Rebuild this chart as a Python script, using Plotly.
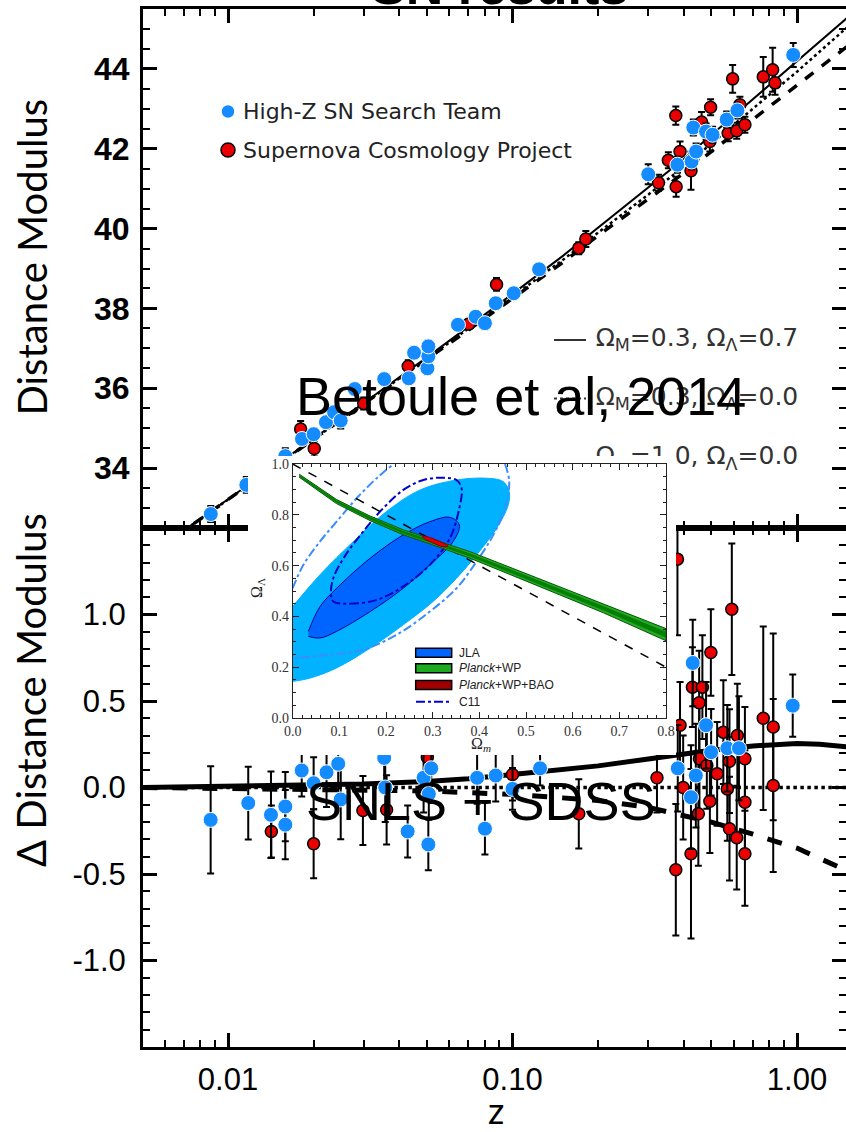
import plotly.graph_objects as go

# ---------------- data ----------------
# model curves: distance modulus of the reference (Omega_M=0.3, Omega_L=0) and residuals of the others
model_z = [0.005, 0.01, 0.02, 0.03, 0.05, 0.07, 0.1, 0.15, 0.2, 0.3, 0.4, 0.5, 0.7, 1.0, 1.2, 1.5]
mu_open = [31.70, 33.21, 34.72, 35.61, 36.74, 37.49, 38.29, 39.21, 39.90, 40.85, 41.55, 42.13, 43.00, 43.93, 44.43, 45.04]
dmu_lcdm = [0.0, 0.005, 0.012, 0.02, 0.035, 0.05, 0.075, 0.10, 0.125, 0.165, 0.195, 0.215, 0.24, 0.255, 0.25, 0.235]
dmu_open = [0.0] * len(model_z)
dmu_eds = [0.0, -0.004, -0.008, -0.012, -0.02, -0.03, -0.04, -0.06, -0.075, -0.115, -0.16, -0.2, -0.27, -0.35, -0.41, -0.48]

# Hubble diagram (top panel)
hz_top_z = [0.0087, 0.0116, 0.0159, 0.0182, 0.0200, 0.0221, 0.0236, 0.0249, 0.0279, 0.0354, 0.0432, 0.0451,
            0.0502, 0.0506, 0.0506, 0.0643, 0.0742, 0.0800, 0.0873, 0.101, 0.124, 0.300, 0.380, 0.426,
            0.442, 0.432, 0.479, 0.505, 0.566, 0.617, 0.970]
hz_top_mu = [32.85, 33.58, 34.30, 34.73, 34.85, 35.15, 35.40, 35.19, 35.98, 36.23, 36.25, 36.89,
             36.50, 36.80, 37.05, 37.59, 37.79, 37.63, 38.13, 38.38, 38.98, 41.36, 41.60, 41.68,
             41.93, 42.53, 42.43, 42.35, 42.73, 42.96, 44.35]
hz_top_err = [0.2, 0.2, 0.2, 0.15, 0.15, 0.15, 0.15, 0.2, 0.15, 0.15, 0.15, 0.15,
              0.15, 0.15, 0.15, 0.12, 0.12, 0.15, 0.12, 0.12, 0.1, 0.25, 0.2, 0.2,
              0.2, 0.2, 0.2, 0.2, 0.2, 0.2, 0.3]

scp_top_z = [0.0180, 0.0201, 0.0300, 0.0430, 0.0702, 0.0879, 0.171, 0.181, 0.326, 0.353, 0.375, 0.376,
             0.388, 0.424, 0.462, 0.494, 0.497, 0.573, 0.594, 0.614, 0.630, 0.656, 0.761, 0.821, 0.837]
scp_top_mu = [34.98, 34.49, 35.62, 36.55, 37.61, 38.60, 39.51, 39.74, 41.15, 41.71, 42.83, 41.05,
              41.93, 41.45, 42.67, 42.18, 43.04, 42.39, 43.75, 42.45, 43.10, 42.60, 43.80, 43.98, 43.65]
scp_top_err = [0.2, 0.2, 0.15, 0.15, 0.12, 0.16, 0.15, 0.2, 0.2, 0.2, 0.23, 0.25,
               0.25, 0.48, 0.25, 0.25, 0.2, 0.2, 0.35, 0.2, 0.2, 0.2, 0.5, 0.55, 0.3]

# residuals (bottom panel)
hz_bot_z = [0.00869, 0.01178, 0.01416, 0.0159, 0.0159, 0.01816, 0.0200, 0.0222, 0.0244, 0.0249, 0.0354,
            0.0357, 0.0428, 0.0487, 0.0506, 0.0508, 0.0518, 0.0751, 0.0800, 0.0873, 0.100, 0.125,
            0.381, 0.424, 0.430, 0.441, 0.479, 0.499, 0.569, 0.625, 0.966]
hz_bot_d = [-0.187, -0.09, -0.158, -0.11, -0.215, 0.098, 0.025, 0.088, 0.137, -0.069, 0.171,
            0.0, -0.254, 0.056, -0.329, -0.037, 0.111, 0.056, -0.238, 0.069, -0.008, 0.111,
            0.111, -0.056, 0.72, 0.069, 0.36, 0.204, 0.227, 0.227, 0.473]
hz_bot_err = [0.31, 0.21, 0.25, 0.2, 0.2, 0.15, 0.15, 0.2, 0.2, 0.23, 0.15,
              0.2, 0.15, 0.2, 0.15, 0.15, 0.2, 0.15, 0.15, 0.15, 0.12, 0.1,
              0.25, 0.3, 0.25, 0.3, 0.25, 0.25, 0.25, 0.3, 0.18]

scp_bot_z = [0.0142, 0.0200, 0.0298, 0.0361, 0.0502, 0.100, 0.171, 0.322, 0.375, 0.380, 0.388, 0.398,
             0.424, 0.429, 0.450, 0.453, 0.454, 0.465, 0.482, 0.494, 0.498, 0.524, 0.551, 0.569,
             0.579, 0.579, 0.590, 0.614, 0.617, 0.656, 0.656, 0.656, 0.761, 0.825, 0.825]
scp_bot_d = [-0.254, -0.325, -0.133, -0.129, 0.175, 0.075, -0.152, 0.056, -0.475, 1.32, 0.36, 0.0,
             -0.383, 0.58, -0.152, 0.49, 0.166, 0.58, 0.127, -0.079, 0.78, 0.079, 0.32, -0.008,
             0.152, -0.238, 1.03, -0.29, 0.30, 0.166, -0.085, -0.383, 0.40, 0.35, 0.012]
scp_bot_err = [0.15, 0.2, 0.2, 0.2, 0.2, 0.15, 0.2, 0.2, 0.38, 0.44, 0.25, 0.3,
               0.49, 0.23, 0.3, 0.3, 0.3, 0.3, 0.25, 0.3, 0.25, 0.3, 0.3, 0.3,
               0.3, 0.3, 0.38, 0.3, 0.3, 0.3, 0.3, 0.3, 0.53, 0.54, 0.5]

# tick labels
x_tickvals = [0.01, 0.1, 1.0]
x_ticktext = ["0.01", "0.10", "1.00"]
x_minor = [0.006, 0.007, 0.008, 0.009, 0.02, 0.03, 0.04, 0.05, 0.06, 0.07, 0.08, 0.09,
           0.2, 0.3, 0.4, 0.5, 0.6, 0.7, 0.8, 0.9]
top_tickvals = [34, 36, 38, 40, 42, 44]
top_minor = [32.5 + 0.5 * i for i in range(27)]
bot_tickvals = [-1.0, -0.5, 0.0, 0.5, 1.0]
bot_ticktext = ["-1.0", "-0.5", "0.0", "0.5", "1.0"]
bot_minor = [round(-1.5 + 0.1 * i, 2) for i in range(31)]

# inset: Omega_m - Omega_Lambda constraints
jla2_om = [0.0, 0.0586, 0.130, 0.201, 0.273, 0.351, 0.416, 0.451, 0.464, 0.462, 0.437, 0.394, 0.351,
           0.301, 0.237, 0.166, 0.094, 0.037, 0.0]
jla2_ol = [0.439, 0.564, 0.695, 0.813, 0.898, 0.937, 0.944, 0.931, 0.891, 0.839, 0.747, 0.642, 0.550,
           0.459, 0.367, 0.275, 0.197, 0.157, 0.144]
jla1_om = [0.0336, 0.0586, 0.0943, 0.166, 0.237, 0.294, 0.337, 0.357, 0.344, 0.294, 0.237, 0.166,
           0.094, 0.0586, 0.0336]
jla1_ol = [0.341, 0.439, 0.511, 0.629, 0.721, 0.773, 0.790, 0.760, 0.695, 0.603, 0.511, 0.419,
           0.341, 0.315, 0.321]
c11a_om = [0.087, 0.123, 0.180, 0.237, 0.294, 0.337, 0.357, 0.362, 0.351, 0.323, 0.280, 0.237, 0.194,
           0.151, 0.109, 0.087, 0.082, 0.087]
c11a_ol = [0.459, 0.450, 0.465, 0.518, 0.603, 0.708, 0.826, 0.904, 0.937, 0.946, 0.937, 0.898, 0.826,
           0.734, 0.629, 0.550, 0.491, 0.459]
c11b_up_om = [0.0, 0.023, 0.0586, 0.094, 0.137, 0.180, 0.216]
c11b_up_ol = [0.511, 0.603, 0.695, 0.773, 0.865, 0.944, 1.0]
c11b_lo_om = [0.455, 0.464, 0.455, 0.430, 0.394, 0.351, 0.294, 0.223, 0.151, 0.080, 0.0]
c11b_lo_ol = [1.0, 0.931, 0.826, 0.721, 0.616, 0.511, 0.419, 0.328, 0.269, 0.249, 0.236]
planck_om = [0.014, 0.094, 0.166, 0.237, 0.301, 0.380, 0.523, 0.666, 0.800]
planck_hi = [0.960, 0.860, 0.795, 0.741, 0.703, 0.655, 0.552, 0.450, 0.352]
planck_lo = [0.948, 0.844, 0.777, 0.721, 0.681, 0.629, 0.522, 0.414, 0.304]
planck_in_hi = [0.956, 0.855, 0.790, 0.735, 0.697, 0.647, 0.543, 0.439, 0.338]
planck_in_lo = [0.952, 0.849, 0.782, 0.727, 0.687, 0.637, 0.531, 0.425, 0.318]
bao_om = [0.278, 0.295, 0.315, 0.333, 0.322, 0.300, 0.282, 0.278]
bao_ol = [0.716, 0.710, 0.695, 0.678, 0.674, 0.690, 0.706, 0.716]
flat_om = [0.0, 0.8]
flat_ol = [1.0, 0.2]
inset_xticks = [0.0, 0.1, 0.2, 0.3, 0.4, 0.5, 0.6, 0.7, 0.8]
inset_yticks = [0.0, 0.2, 0.4, 0.6, 0.8, 1.0]

# ---------------- layout geometry ----------------
W, H = 846, 1132
L, R, T, B = 143, 0, 9, 85
PW, PH = W - L - R, H - T - B


def pxx(x):
    return (x - L) / PW


def pyy(y):
    return (H - B - y) / PH


BLUE = "rgb(20,140,255)"
RED = "rgb(235,0,0)"

fig = go.Figure()

# ---- model curves
mu_lcdm = [a + b for a, b in zip(mu_open, dmu_lcdm)]
mu_eds = [a + b for a, b in zip(mu_open, dmu_eds)]
for yv, dash, wd in [(mu_open, "dot", 2.5), (mu_eds, "dash", 3.5), (mu_lcdm, "solid", 2)]:
    fig.add_trace(go.Scatter(x=model_z, y=yv, mode="lines", xaxis="x2", yaxis="y2",
                             line=dict(color="black", width=wd, dash=dash)))
for yv, dash, wd in [(dmu_open, "dot", 3.5), (dmu_eds, "dash", 5), (dmu_lcdm, "solid", 5)]:
    fig.add_trace(go.Scatter(x=model_z, y=yv, mode="lines", xaxis="x", yaxis="y",
                             line=dict(color="black", width=wd, dash=dash)))


def pts(x, y, e, ax, ay, color, size, lc, lw):
    return go.Scatter(x=x, y=y, mode="markers", xaxis=ax, yaxis=ay,
                      marker=dict(color=color, size=size, line=dict(color=lc, width=lw)),
                      error_y=dict(type="data", array=e, color="black", thickness=2, width=3.5))


fig.add_trace(pts(scp_top_z, scp_top_mu, scp_top_err, "x2", "y2", RED, 12, "black", 1.5))
fig.add_trace(pts(hz_top_z, hz_top_mu, hz_top_err, "x2", "y2", BLUE, 15, "white", 1))
fig.add_trace(pts(scp_bot_z, scp_bot_d, scp_bot_err, "x", "y", RED, 12, "black", 1.5))
fig.add_trace(pts(hz_bot_z, hz_bot_d, hz_bot_err, "x", "y", BLUE, 15, "white", 1))

# ---- model legend text (in top panel, partly covered by inset like the original)
leg_txt = ["Ω<sub>M</sub>=0.3, Ω<sub>Λ</sub>=0.7", "Ω<sub>M</sub>=0.3, Ω<sub>Λ</sub>=0.0",
           "Ω<sub>M</sub>=1.0, Ω<sub>Λ</sub>=0.0"]
leg_y = [37.21, 35.74, 34.25]
fig.add_trace(go.Scatter(x=[0.196] * 3, y=leg_y, text=leg_txt, mode="text", xaxis="x2", yaxis="y2",
                         textposition="middle right",
                         textfont=dict(family="DejaVu Sans", size=25, color="#333")))

# ---- white box behind inset (covers the main panels)
fig.add_trace(go.Scatter(x=[0, 1, 1, 0, 0], y=[0, 0, 1, 1, 0], mode="lines", fill="toself",
                         fillcolor="white", line=dict(width=0, color="white"),
                         xaxis="x3", yaxis="y3", hoverinfo="skip"))

# ---- inset traces
LB = "rgb(0,178,255)"
MB = "rgb(0,100,255)"
fig.add_trace(go.Scatter(x=jla2_om, y=jla2_ol, fill="toself", fillcolor=LB, mode="lines",
                         line=dict(color=LB, width=1, shape="spline"), xaxis="x4", yaxis="y4"))
fig.add_trace(go.Scatter(x=jla1_om, y=jla1_ol, fill="toself", fillcolor=MB, mode="lines",
                         line=dict(color="rgb(0,0,150)", width=1, shape="spline"), xaxis="x4", yaxis="y4"))
fig.add_trace(go.Scatter(x=c11a_om, y=c11a_ol, mode="lines", xaxis="x4", yaxis="y4",
                         line=dict(color="rgb(0,0,200)", width=2, dash="dashdot", shape="spline")))
for xo, yo in [(c11b_up_om, c11b_up_ol), (c11b_lo_om, c11b_lo_ol)]:
    fig.add_trace(go.Scatter(x=xo, y=yo, mode="lines", xaxis="x4", yaxis="y4",
                             line=dict(color="rgb(60,140,255)", width=2, dash="dashdot", shape="spline")))
fig.add_trace(go.Scatter(x=flat_om, y=flat_ol, mode="lines", xaxis="x4", yaxis="y4",
                         line=dict(color="black", width=1.5, dash="dash")))
fig.add_trace(go.Scatter(x=planck_om + planck_om[::-1], y=planck_hi + planck_lo[::-1], fill="toself",
                         fillcolor="rgb(40,170,40)", mode="lines",
                         line=dict(color="rgb(0,90,0)", width=1), xaxis="x4", yaxis="y4"))
fig.add_trace(go.Scatter(x=planck_om + planck_om[::-1], y=planck_in_hi + planck_in_lo[::-1], fill="toself",
                         fillcolor="rgb(0,130,0)", mode="lines",
                         line=dict(color="rgb(0,110,0)", width=0.5), xaxis="x4", yaxis="y4"))
fig.add_trace(go.Scatter(x=bao_om, y=bao_ol, fill="toself", fillcolor="rgb(220,0,0)", mode="lines",
                         line=dict(color="rgb(130,0,0)", width=1, shape="spline"), xaxis="x4", yaxis="y4"))

# ---------------- axes ----------------
xr = [(L - 797) / 284.5, (W - 797) / 284.5]
tickf = dict(family="Liberation Sans", size=31, color="black")
common_x = dict(type="log", range=xr, showline=True, linecolor="black", linewidth=3, mirror="allticks",
                ticks="inside", ticklen=14, tickwidth=2.5, tickcolor="black", showgrid=False, zeroline=False,
                tickmode="array", tickvals=x_tickvals, ticktext=x_ticktext, tickfont=tickf,
                minor=dict(tickmode="array", tickvals=x_minor, ticks="inside", ticklen=7, tickwidth=2,
                           tickcolor="black", showgrid=False))
common_y = dict(showline=True, linecolor="black", linewidth=3, mirror="allticks", ticks="inside",
                ticklen=14, tickwidth=2.5, tickcolor="black", showgrid=False, zeroline=False, tickmode="array")

inset_ax = dict(showline=True, linecolor="#222", linewidth=1, mirror="allticks", ticks="inside",
                ticklen=6, tickwidth=1, tickcolor="#222", showgrid=False, zeroline=False, tickmode="array",
                tickfont=dict(family="Liberation Serif", size=14, color="#333"))
blank_ax = dict(range=[0, 1], showline=False, showticklabels=False, ticks="", showgrid=False,
                zeroline=False, fixedrange=True)

fig.update_layout(
    width=W, height=H, margin=dict(l=L, r=R, t=T, b=B, autoexpand=False),
    paper_bgcolor="white", plot_bgcolor="white", showlegend=False, hovermode=False,
    xaxis=dict(common_x, domain=[0, 1], anchor="y", ticklabelstandoff=3),
    xaxis2=dict(common_x, domain=[0, 1], anchor="y2", matches="x", showticklabels=False),
    yaxis=dict(common_y, domain=[0, 0.5], anchor="x", range=[-1.5, 1.5], tickvals=bot_tickvals,
               ticktext=bot_ticktext, tickfont=tickf, ticklabelstandoff=8,
               minor=dict(tickmode="array", tickvals=bot_minor, ticks="inside", ticklen=7, tickwidth=2,
                          tickcolor="black")),
    yaxis2=dict(common_y, domain=[0.5, 1], anchor="x2", range=[32.5, 45.5], tickvals=top_tickvals,
                tickfont=dict(family="Liberation Sans", size=32, color="black", weight="bold"),
                ticklabelstandoff=4,
                minor=dict(tickmode="array", tickvals=top_minor, ticks="inside", ticklen=7, tickwidth=2,
                           tickcolor="black")),
    xaxis3=dict(blank_ax, domain=[pxx(248), pxx(676)], anchor="y3"),
    yaxis3=dict(blank_ax, domain=[pyy(755), pyy(456)], anchor="x3"),
    xaxis4=dict(inset_ax, domain=[pxx(292.7), pxx(666)], anchor="y4", range=[0, 0.8],
                tickvals=inset_xticks, ticktext=["%.1f" % v for v in inset_xticks],
                minor=dict(dtick=0.02, tick0=0, ticks="inside", ticklen=3, tickwidth=1, tickcolor="#222")),
    yaxis4=dict(inset_ax, domain=[pyy(718), pyy(464)], anchor="x4", range=[0, 1.0],
                tickvals=inset_yticks, ticktext=["%.1f" % v for v in inset_yticks],
                minor=dict(dtick=0.05, tick0=0, ticks="inside", ticklen=3, tickwidth=1, tickcolor="#222")),
)

# ---------------- annotations ----------------
ann = []


def note(text, x, y, font, xanchor="center", yanchor="middle", angle=0):
    ann.append(dict(text=text, x=pxx(x), y=pyy(y), xref="paper", yref="paper", xanchor=xanchor,
                    yanchor=yanchor, textangle=angle, showarrow=False, font=font))


note("<b>SN results</b>", 500, 17, dict(family="Liberation Sans", size=52, color="black"), yanchor="bottom")
note("Distance Modulus", 31.5, 257, dict(family="Lato", size=40, color="black"), angle=-90)
note("Δ Distance Modulus", 31.5, 690.5, dict(family="Lato", size=40, color="black"), angle=-90)
note("z", 496, 1110, dict(family="Lato", size=36, color="black"))
note("High-Z SN Search Team", 241, 111.5, dict(family="DejaVu Sans", size=22, color="#222"), xanchor="left")
note("Supernova Cosmology Project", 241, 150, dict(family="DejaVu Sans", size=22, color="#222"), xanchor="left")
note("Betoule et al, 2014", 520.6, 395.8, dict(family="Liberation Sans", size=54, color="black"))
note("SNLS + SDSS", 481, 801.3, dict(family="Liberation Sans", size=54, color="black"))
note("Ω<sub>Λ</sub>", 257, 588, dict(family="Liberation Serif", size=16, color="#222"), angle=-90)
note("Ω<sub><i>m</i></sub>", 481, 744, dict(family="Liberation Serif", size=16, color="#222"))
for txt, yy in [("JLA", 652.7), ("<i>Planck</i>+WP", 668.3), ("<i>Planck</i>+WP+BAO", 685),
                ("C11", 701.7)]:
    note(txt, 456.7, yy, dict(family="Liberation Sans", size=12, color="#222"), xanchor="left")
fig.update_layout(annotations=ann)

# ---------------- legend glyph shapes ----------------
shapes = []
for yy, col, lc in [(111.5, BLUE, "white"), (150, RED, "black")]:
    shapes.append(dict(type="circle", xref="paper", yref="paper", xsizemode="pixel", ysizemode="pixel",
                       xanchor=pxx(228), yanchor=pyy(yy), x0=-7, x1=7, y0=-7, y1=7,
                       fillcolor=col, line=dict(color=lc, width=1.5), layer="above"))
for yy, dash in [(340, "solid"), (398.6, "dot"), (458, "dash")]:
    shapes.append(dict(type="line", xref="paper", yref="paper", x0=pxx(554), x1=pxx(586),
                       y0=pyy(yy), y1=pyy(yy), line=dict(color="#333", width=2, dash=dash), layer="below"))
for yy, col in [(652.7, MB), (668.3, "rgb(30,170,30)"), (685, "rgb(160,0,0)")]:
    shapes.append(dict(type="rect", xref="paper", yref="paper", x0=pxx(415.7), x1=pxx(451.7),
                       y0=pyy(yy + 4.5), y1=pyy(yy - 4.5), fillcolor=col,
                       line=dict(color="black", width=1.5), layer="above"))
shapes.append(dict(type="line", xref="paper", yref="paper", x0=pxx(416), x1=pxx(451),
                   y0=pyy(701.7), y1=pyy(701.7), line=dict(color="rgb(0,0,220)", width=2, dash="dashdot"),
                   layer="above"))
fig.update_layout(shapes=shapes)

fig.write_html("out.html")
